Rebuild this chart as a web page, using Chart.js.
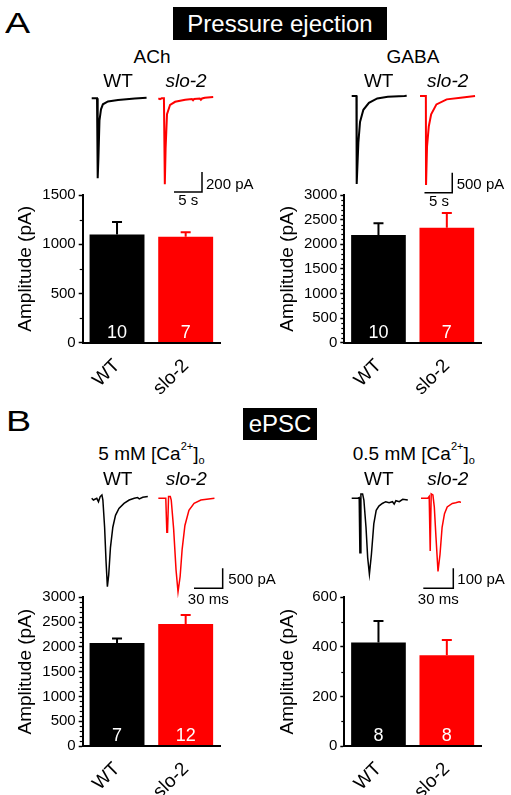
<!DOCTYPE html>
<html>
<head>
<meta charset="utf-8">
<script src="https://cdn.jsdelivr.net/npm/chart.js@4.4.1/dist/chart.umd.min.js"></script>
<style>
  body { margin: 0; background: #fff; width: 511px; height: 795px; overflow: hidden; position: relative;
         font-family: Arial, "Liberation Sans", sans-serif; }
  canvas { position: absolute; }
  .t { position: absolute; white-space: nowrap; line-height: 1; color: #000; }
  .box { position: absolute; background: #000; color: #fff; text-align: center; white-space: nowrap; }
</style>
</head>
<body>
<script>
const FONT = 'Arial, "Liberation Sans", sans-serif';

// --- bar data (amplitude in pA, mean + SEM, n) ---
const genotypes = ['WT', 'slo-2'];
const barColors = ['#000000', '#ff0000'];

const achMean = [1100, 1077];
const achSem = [126, 44];
const achN = [10, 7];

const gabaMean = [2187, 2336];
const gabaSem = [237, 298];
const gabaN = [10, 7];

const ca5Mean = [2080, 2460];
const ca5Sem = [90, 185];
const ca5N = [7, 12];

const ca05Mean = [418, 366];
const ca05Sem = [86, 62];
const ca05N = [8, 8];

// --- example traces, [time, current in pA] ---
// pressure ejection: time in s
const achWtTrace = [[0,0],[0.6,0],[0.6,10],[0.7,0],[0.95,0],[1.07,-800],[1.2,-600],[1.39,-220],[1.66,-110],[2.0,-60],[2.9,-32],[4.7,-18],[6.2,-10],[7.7,-2],[9.8,5]];
const achSloTrace = [[0,0],[0.3,-8],[0.6,0],[1.0,0],[1.16,-860],[1.3,-500],[1.55,-160],[2.1,-65],[3.0,-35],[4.8,-15],[6.0,-8],[6.2,-20],[6.4,-6],[7.4,-2],[7.6,-14],[7.8,-2],[8.3,5],[9.8,12]];
const gabaWtTrace = [[0,0],[0.85,0],[0.9,-2200],[1.2,-1165],[1.5,-650],[2.1,-345],[3.1,-170],[4.6,-60],[6.5,-20],[9.5,0],[9.9,5]];
const gabaSloTrace = [[0,0],[1.05,0],[1.08,-2225],[1.26,-1260],[1.58,-755],[2.0,-460],[2.95,-210],[4.8,-84],[7.3,-42],[9.9,0]];
// ePSC: time in ms
const ca5WtTrace = [[0,0],[1.8,-43],[5.3,0],[7.1,-85],[8.9,43],[10.7,85],[11.7,-43],[13.5,-723],[15.0,-1573],[16.4,-2210],[17.8,-1913],[19.6,-1233],[22.1,-723],[24.9,-425],[28.5,-255],[33.8,-128],[39.2,-43],[44.5,0],[48.1,17],[49.8,-17],[53.4,26],[58.7,43]];
const ca5SloTrace = [[0,0],[7.8,0],[8.9,-850],[9.6,-850],[10.7,43],[12.5,43],[13.5,-43],[16.0,-765],[18.5,-1785],[20.6,-2340],[22.8,-1955],[24.9,-1275],[27.8,-680],[32.0,-298],[37.4,-128],[44.5,-43],[58.7,0]];
const ca05WtTrace = [[0,0],[6.1,0],[7.5,3],[8.2,-272],[8.7,-272],[9.2,22],[10.9,22],[12.2,-9],[14.3,-145],[16.0,-298],[17.7,-379],[19.7,-281],[22.1,-128],[24.5,-60],[27.2,-39],[30.6,-26],[34.0,-17],[37.4,-22],[40.8,-17],[42.5,-29],[44.2,-12],[47.6,-17],[51.0,-5],[56.1,-9]];
const ca05SloTrace = [[0,0],[6.8,0],[8.2,9],[9.2,-264],[9.7,-264],[10.2,22],[11.9,17],[13.3,-43],[15.0,-196],[17.0,-366],[19.0,-281],[21.1,-145],[23.5,-77],[26.2,-43],[31.3,-26],[34.7,-22],[38.1,-17],[41.5,-22],[44.9,-12],[50.0,-9],[54.4,0]];

// scale bars [time, current]
const achScale = [5, 200];
const gabaScale = [5, 500];
const ca5Scale = [30, 500];
const ca05Scale = [30, 100];

function makeCanvas(box) {
    const c = document.createElement('canvas');
    c.width = box.width;
    c.height = box.height;
    c.style.left = box.left + 'px';
    c.style.top = box.top + 'px';
    c.style.width = box.width + 'px';
    c.style.height = box.height + 'px';
    document.body.appendChild(c);
    return c;
}

function addText(html, x, baseline, size, align, italic) {
    const d = document.createElement('div');
    d.className = 't';
    d.innerHTML = html;
    d.style.fontSize = size + 'px';
    d.style.top = (baseline - 0.8465 * size) + 'px';
    d.style.left = x + 'px';
    if (italic) d.style.fontStyle = 'italic';
    if (align === 'center') d.style.transform = 'translateX(-50%)';
    document.body.appendChild(d);
    return d;
}

function addBox(text, left, top, width, height, size) {
    const d = document.createElement('div');
    d.className = 'box';
    d.textContent = text;
    Object.assign(d.style, { left: left + 'px', top: top + 'px', width: width + 'px', height: height + 'px',
        lineHeight: height + 'px', fontSize: size + 'px' });
    document.body.appendChild(d);
}

// error bars, n inside the bars, minor ticks
const barExtras = {
    id: 'barExtras',
    afterDatasetsDraw(chart, args, opts) {
        const ctx = chart.ctx;
        const y = chart.scales.y;
        const meta = chart.getDatasetMeta(0);
        ctx.save();
        ctx.strokeStyle = '#000';
        ctx.lineWidth = 1.2;
        for (let v = opts.minor; v < opts.max; v += opts.minor) {
            if (v % opts.major === 0) continue;
            const py = Math.round(y.getPixelForValue(v)) + 0.5;
            ctx.beginPath();
            ctx.moveTo(y.right - 3, py);
            ctx.lineTo(y.right, py);
            ctx.stroke();
        }
        const y0 = y.getPixelForValue(0);
        meta.data.forEach((bar, i) => {
            const top = y.getPixelForValue(opts.mean[i] + opts.sem[i]);
            ctx.strokeStyle = barColors[i];
            ctx.lineWidth = 2;
            ctx.beginPath();
            ctx.moveTo(bar.x, bar.y);
            ctx.lineTo(bar.x, top);
            ctx.moveTo(bar.x - 5, top);
            ctx.lineTo(bar.x + 5, top);
            ctx.stroke();
            ctx.fillStyle = '#fff';
            ctx.font = '18px ' + FONT;
            ctx.textAlign = 'center';
            ctx.textBaseline = 'alphabetic';
            ctx.fillText(String(opts.n[i]), bar.x, y0 - 5);
        });
        ctx.restore();
    }
};

function barChart(cfg) {
    const c = makeCanvas(cfg.box);
    new Chart(c, {
        type: 'bar',
        data: {
            labels: genotypes,
            datasets: [{ data: cfg.mean, backgroundColor: barColors, borderWidth: 0, barPercentage: 1, categoryPercentage: 0.8 }]
        },
        options: {
            responsive: false,
            animation: false,
            events: [],
            layout: { padding: { top: cfg.padTop, right: cfg.padRight, left: 0, bottom: 0 } },
            plugins: {
                legend: { display: false },
                tooltip: { enabled: false },
                barExtras: { mean: cfg.mean, sem: cfg.sem, n: cfg.n, minor: cfg.minor, major: cfg.major, max: cfg.max }
            },
            scales: {
                x: {
                    grid: { display: false },
                    border: { color: '#000', width: 2, z: 1 },
                    ticks: { color: '#000', autoSkip: false, minRotation: 45, maxRotation: 45, padding: 4,
                             font: { family: FONT, size: 19 } },
                    afterFit: s => { s.height = cfg.xHeight; }
                },
                y: {
                    min: 0,
                    max: cfg.max,
                    ticks: { stepSize: cfg.major, color: '#000', padding: 3, font: { family: FONT, size: 15 },
                             callback: v => String(v) },
                    grid: { drawOnChartArea: false, drawTicks: true, tickLength: 4, tickColor: '#000', tickWidth: 1.5 },
                    border: { color: '#000', width: 2 },
                    title: { display: true, text: 'Amplitude (pA)', color: '#000', font: { family: FONT, size: 19 },
                             padding: { top: 14, bottom: 0 } },
                    afterFit: s => { s.width = cfg.yWidth; }
                }
            }
        },
        plugins: [barExtras]
    });
}

function traceChart(cfg) {
    const c = makeCanvas(cfg.box);
    const { box, origin, xPerPx, yPerPx } = cfg;
    const xmin = (box.left - origin.x) * xPerPx;
    const xmax = (box.left + box.width - origin.x) * xPerPx;
    const ymax = (origin.y - box.top) * yPerPx;
    const ymin = (origin.y - box.top - box.height) * yPerPx;
    const [bx, by] = cfg.barCorner;
    const [bt, ba] = cfg.scaleBar;
    new Chart(c, {
        type: 'line',
        data: {
            datasets: [
                { data: cfg.wt.map(([t, a]) => ({ x: t, y: a })), borderColor: '#000', borderWidth: cfg.lw },
                { data: cfg.slo.map(([t, a]) => ({ x: t + cfg.shift, y: a })), borderColor: '#ff0000', borderWidth: cfg.lw },
                { data: [{ x: bx - bt, y: by }, { x: bx, y: by }, { x: bx, y: by + ba }], borderColor: '#000', borderWidth: 1.5 }
            ]
        },
        options: {
            responsive: false,
            animation: false,
            events: [],
            elements: { point: { radius: 0 }, line: { tension: 0 } },
            plugins: { legend: { display: false }, tooltip: { enabled: false } },
            scales: {
                x: { type: 'linear', display: false, min: xmin, max: xmax },
                y: { display: false, min: ymin, max: ymax }
            }
        }
    });
}

// --- panel A ---
traceChart({ box: { left: 86, top: 86, width: 140, height: 112 }, origin: { x: 91.7, y: 98.3 }, xPerPx: 0.1786, yPerPx: 10,
    wt: achWtTrace, slo: achSloTrace, shift: 11.9, lw: 2, barCorner: [19.7, -937], scaleBar: achScale });
traceChart({ box: { left: 346, top: 84, width: 140, height: 114 }, origin: { x: 351.7, y: 96 }, xPerPx: 0.18, yPerPx: 25,
    wt: gabaWtTrace, slo: gabaSloTrace, shift: 12.3, lw: 2, barCorner: [18.1, -2418], scaleBar: gabaScale });

barChart({ box: { left: 0, top: 180, width: 230, height: 220 }, padTop: 15, padRight: 10, yWidth: 82.7, xHeight: 57.3,
    mean: achMean, sem: achSem, n: achN, max: 1500, major: 500, minor: 250 });
barChart({ box: { left: 262, top: 180, width: 230, height: 220 }, padTop: 15, padRight: 11, yWidth: 82.3, xHeight: 57.3,
    mean: gabaMean, sem: gabaSem, n: gabaN, max: 3000, major: 500, minor: 100 });

// --- panel B ---
traceChart({ box: { left: 86, top: 488, width: 145, height: 110 }, origin: { x: 91.7, y: 498.3 }, xPerPx: 1.046, yPerPx: 25,
    wt: ca5WtTrace, slo: ca5SloTrace, shift: 69.7, lw: 1.5, barCorner: [137, -2250], scaleBar: ca5Scale });
traceChart({ box: { left: 346, top: 488, width: 115, height: 105 }, origin: { x: 351.7, y: 498.3 }, xPerPx: 1.0, yPerPx: 5,
    wt: ca05WtTrace, slo: ca05SloTrace, shift: 69.3, lw: 1.5, barCorner: [101.6, -450], scaleBar: ca05Scale });

barChart({ box: { left: 0, top: 582, width: 230, height: 213 }, padTop: 15.3, padRight: 10, yWidth: 82.7, xHeight: 49,
    mean: ca5Mean, sem: ca5Sem, n: ca5N, max: 3000, major: 500, minor: 100 });
barChart({ box: { left: 262, top: 582, width: 230, height: 213 }, padTop: 15.3, padRight: 11, yWidth: 82.3, xHeight: 49,
    mean: ca05Mean, sem: ca05Sem, n: ca05N, max: 600, major: 200, minor: 100 });

// --- text ---
const letterA = addText('A', 5, 33.5, 29, 'left');
letterA.style.transform = 'scaleX(1.3)';
letterA.style.transformOrigin = 'left';
const letterB = addText('B', 6, 432, 29, 'left');
letterB.style.transform = 'scaleX(1.3)';
letterB.style.transformOrigin = 'left';

addBox('Pressure ejection', 173, 7, 214, 33, 24);
addBox('ePSC', 243, 408, 74, 32, 24);

addText('ACh', 152, 63.3, 19, 'center');
addText('GABA', 413, 63.3, 19, 'center');
addText('WT', 118, 87.3, 19, 'center');
addText('slo-2', 186, 87.3, 19, 'center', true);
addText('WT', 378.7, 87.3, 19, 'center');
addText('slo-2', 447.7, 87.3, 19, 'center', true);
addText('200 pA', 206, 188.3, 15, 'left');
addText('5 s', 188.3, 205, 15, 'center');
addText('500 pA', 456.7, 188.3, 15, 'left');
addText('5 s', 439, 205.5, 15, 'center');

const sup = '<span style="font-size:11px;position:relative;top:-10px;color:#000">2+</span>';
const sub = '<span style="font-size:11px;position:relative;top:4px;color:#000">o</span>';
addText('5 mM [Ca' + sup + ']' + sub, 98.3, 460, 19, 'left');
addText('0.5 mM [Ca' + sup + ']' + sub, 352.7, 460, 19, 'left');
addText('WT', 117.7, 485, 19, 'center');
addText('slo-2', 186.3, 485, 19, 'center', true);
addText('WT', 378.8, 485, 19, 'center');
addText('slo-2', 447.8, 485, 19, 'center', true);
addText('500 pA', 228.3, 584, 15, 'left');
addText('30 ms', 208.3, 603.3, 15, 'center');
addText('100 pA', 457.3, 584, 15, 'left');
addText('30 ms', 438.3, 603.3, 15, 'center');
</script>
</body>
</html>
